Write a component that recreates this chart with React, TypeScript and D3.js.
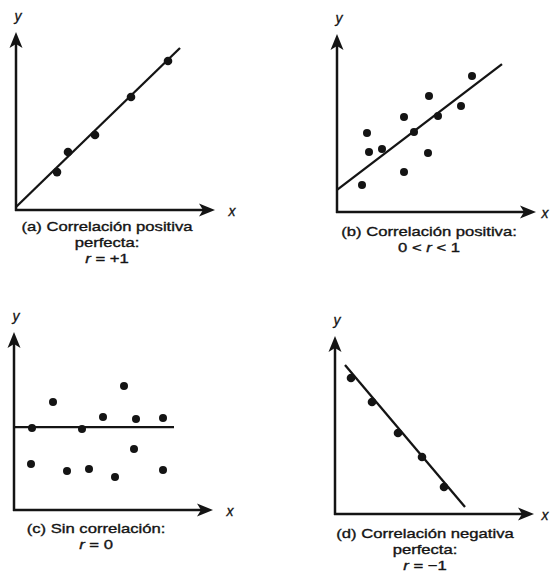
import React from "react";
import * as d3 from "d3";

// (a) correlación positiva perfecta
const posPerfX = [2.05, 2.6, 3.95, 5.75, 7.6];
const posPerfY = [2.13, 3.26, 4.21, 6.35, 8.37];
const posPerfLine = [[0, 0.17], [8.2, 9.1]];

// (b) correlación positiva 0 < r < 1
const posX = [1.25, 1.5, 1.6, 2.25, 3.35, 3.35, 3.85, 4.55, 4.6, 5.05, 6.2, 6.75];
const posY = [1.52, 4.44, 3.37, 3.54, 5.34, 2.25, 4.49, 3.31, 6.52, 5.39, 5.96, 7.64];
const posLine = [[0, 1.24], [8.25, 8.31]];

// (c) sin correlación
const noneX = [0.9, 0.85, 1.95, 2.65, 3.4, 3.75, 4.45, 5.05, 5.5, 6.0, 6.1, 7.45, 7.45];
const noneY = [4.61, 2.58, 6.07, 2.19, 4.55, 2.3, 5.22, 1.85, 6.97, 3.43, 5.11, 5.17, 2.25];
const noneLine = [[0, 4.66], [8.0, 4.66]];

// (d) correlación negativa perfecta
const negPerfX = [0.8, 1.85, 3.15, 4.35, 5.45];
const negPerfY = [7.64, 6.29, 4.55, 3.2, 1.52];
const negPerfLine = [[0.5, 8.37], [6.5, 0.39]];

const captionA = ["(a) Correlación positiva", "perfecta:", ["", "r", " = +1"]];
const captionB = ["(b) Correlación positiva:", ["0 < ", "r", " < 1"]];
const captionC = ["(c) Sin correlación:", ["", "r", " = 0"]];
const captionD = ["(d) Correlación negativa", "perfecta:", ["", "r", " = −1"]];

const ink = "#141414";
const font = "'Liberation Sans', Arial, Helvetica, sans-serif";

function Caption({ lines, cx, y0 }) {
  return (
    <g>
      {lines.map((l, i) => (
        <text
          key={i}
          transform={`translate(${cx},${y0 + i * 16}) scale(1.28,1)`}
          textAnchor="middle"
          fontFamily={font}
          fontSize={13}
          fill={ink}
          stroke={ink}
          strokeWidth={0.35}
        >
          {typeof l === "string" ? l : (
            <>
              {l[0]}
              <tspan fontStyle="italic">{l[1]}</tspan>
              {l[2]}
            </>
          )}
        </text>
      ))}
    </g>
  );
}

function Panel({ ox, oy, xs, ys, line, r, caption, capX, capY, xLabelX }) {
  const x = d3.scaleLinear().domain([0, 10]).range([ox, ox + 200]);
  const y = d3.scaleLinear().domain([0, 10]).range([oy, oy - 178]);
  const top = y(10);
  const right = x(10) - 1;
  const lineGen = d3.line().x(d => x(d[0])).y(d => y(d[1]));

  return (
    <g>
      {/* ejes */}
      <line x1={ox} y1={oy + 1} x2={ox} y2={top + 10} stroke={ink} strokeWidth={2.5} />
      <line x1={ox - 1} y1={oy} x2={right - 10} y2={oy} stroke={ink} strokeWidth={2.5} />
      <path d={`M${ox},${top} L${ox - 6.5},${top + 16} L${ox},${top + 12} L${ox + 6.5},${top + 16} Z`} fill={ink} />
      <path d={`M${right},${oy} L${right - 16},${oy - 6.5} L${right - 12},${oy} L${right - 16},${oy + 6.5} Z`} fill={ink} />
      <text x={ox + 2} y={top - 11} textAnchor="middle" fontFamily={font} fontStyle="italic" fontSize={14} fill={ink} stroke={ink} strokeWidth={0.3}>y</text>
      <text x={xLabelX} y={oy + 6} textAnchor="middle" fontFamily={font} fontStyle="italic" fontSize={14} fill={ink} stroke={ink} strokeWidth={0.3}>x</text>

      <path d={lineGen(line)} stroke={ink} strokeWidth={2.3} fill="none" />
      {xs.map((v, i) => (
        <circle key={i} cx={x(v)} cy={y(ys[i])} r={r} fill={ink} />
      ))}
      <Caption lines={caption} cx={capX} y0={capY} />
    </g>
  );
}

export default function App() {
  return (
    <svg
      width={551}
      height={573}
      style={{ position: "absolute", left: 0, top: 0, background: "#fff" }}
    >
      <rect width={551} height={573} fill="#fff" />
      <Panel ox={16} oy={210} xs={posPerfX} ys={posPerfY} line={posPerfLine} r={4.3}
        caption={captionA} capX={107} capY={231} xLabelX={232} />
      <Panel ox={337} oy={212} xs={posX} ys={posY} line={posLine} r={4}
        caption={captionB} capX={429} capY={236} xLabelX={545} />
      <Panel ox={14} oy={510} xs={noneX} ys={noneY} line={noneLine} r={4}
        caption={captionC} capX={96} capY={533} xLabelX={230} />
      <Panel ox={335} oy={514} xs={negPerfX} ys={negPerfY} line={negPerfLine} r={4.3}
        caption={captionD} capX={425} capY={538} xLabelX={545} />
    </svg>
  );
}
